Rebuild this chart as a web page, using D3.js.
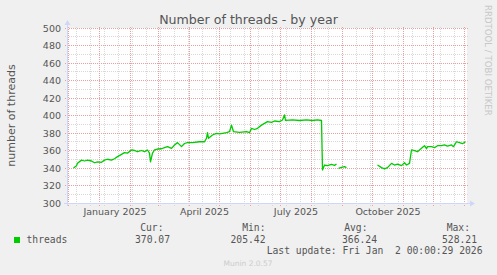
<!DOCTYPE html>
<html>
<head>
<meta charset="utf-8">
<script src="https://cdn.jsdelivr.net/npm/d3@7"></script>
<style>
  html, body { margin: 0; padding: 0; background: #f0f0f0; }
  svg { display: block; }
  text { font-family: 'DejaVu Sans', sans-serif; fill: #555; }
  text.mono { font-family: 'DejaVu Sans Mono', monospace; white-space: pre; }
</style>
</head>
<body>
<svg id="chart" width="497" height="275"></svg>
<script>
// 400 days, ending at the last update
const rangeStart = '2024-11-29T12:00:00Z';
const rangeEnd   = '2026-01-03T12:00:00Z';

const dates = [
  '2024-12-06','2024-12-09','2024-12-10','2024-12-14','2024-12-17','2024-12-20','2024-12-24','2024-12-27','2024-12-30',
  '2025-01-03','2025-01-06','2025-01-09','2025-01-13','2025-01-16','2025-01-19','2025-01-23','2025-01-26','2025-01-29',
  '2025-02-02','2025-02-05','2025-02-08','2025-02-12','2025-02-15','2025-02-18','2025-02-20','2025-02-21','2025-02-23','2025-02-25','2025-02-28',
  '2025-03-04','2025-03-07','2025-03-10','2025-03-14','2025-03-17','2025-03-20','2025-03-24','2025-03-27','2025-03-30',
  '2025-04-04','2025-04-11','2025-04-16','2025-04-18','2025-04-19','2025-04-20','2025-04-24','2025-04-28',
  '2025-05-01','2025-05-04','2025-05-08','2025-05-11','2025-05-13','2025-05-15','2025-05-21','2025-05-28','2025-05-31',
  '2025-06-02','2025-06-05','2025-06-08','2025-06-12','2025-06-15','2025-06-18','2025-06-22','2025-06-25','2025-06-30',
  '2025-07-03','2025-07-05','2025-07-06','2025-07-13','2025-07-20','2025-07-27',
  '2025-08-02','2025-08-07','2025-08-11','2025-08-12','2025-08-14','2025-08-17','2025-08-21','2025-08-24','2025-08-26','2025-08-27','2025-08-28','2025-08-31',
  '2025-09-03','2025-09-05','2025-09-20',
  '2025-10-06','2025-10-10','2025-10-13','2025-10-16','2025-10-20','2025-10-23','2025-10-26','2025-10-30',
  '2025-11-02','2025-11-04','2025-11-07','2025-11-09','2025-11-12','2025-11-15','2025-11-19','2025-11-22','2025-11-24','2025-11-25','2025-11-29',
  '2025-12-02','2025-12-05','2025-12-09','2025-12-12','2025-12-15','2025-12-19','2025-12-21','2025-12-24','2025-12-27','2025-12-30',
  '2026-01-02'
];
const threads = [
  340, 342.7, 345.3, 349, 348, 349, 348, 346, 347,
  346.5, 349, 350, 349, 350.6, 353, 355.6, 357.5, 357,
  360.6, 360, 358.6, 360, 358.6, 360.6, 357, 347, 357, 360.6, 361.7,
  362, 363.2, 364.4, 362.5, 366.3, 369, 364.4, 368, 369,
  369, 370, 370, 374, 380.4, 374, 377.7, 379.6,
  379, 379.6, 380.4, 381.5, 389, 381.5, 380.8, 381.5, 380.4,
  385.3, 384, 385.3, 389, 391, 393, 392.2, 393.7, 393,
  394.9, 400.6, 394.5, 395, 394.3, 395,
  394.3, 395, 394.3, 337.7, 343.4, 342.7, 344.2, 343, 344.5, null, 339.6, 340.8,
  341.5, 340.4, null,
  343.4, 340.4, 338.9, 340.4, 345.3, 343.4, 344.5, 342.7,
  346, 343.4, 345.3, 360.6, 359.8, 358.6, 362.5, 365.5, 362.1, 364.4, 364.4,
  363.2, 365.5, 365.5, 366.3, 365.1, 366.3, 364.4, 370, 369, 367.8,
  370
];

const yTicks       = [300, 320, 340, 360, 380, 400, 420, 440, 460, 480, 500];
const xLabelMonths = ['2025-01-01', '2025-04-01', '2025-07-01', '2025-10-01'];
const minorStart   = '2024-12-09';

const legendName   = 'threads';
const legendHeads  = ['Cur:', 'Min:', 'Avg:', 'Max:'];
const legendValues = ['370.07', '205.42', '366.24', '528.21'];
const lastUpdate   = 'Last update: Fri Jan  2 00:00:29 2026';

class MuninGraph {
    constructor (config) {
        this._config = config;
        this._svg = d3.select(config.selector);
    }
    /* **************************************************************** *
     *   Scale
     * **************************************************************** */
    setScale () {
        let c = this._config;
        this.x = d3.scaleUtc()
            .domain([new Date(rangeStart), new Date(rangeEnd)])
            .range([c.left, c.right]);
        this.y = d3.scaleLinear()
            .domain([300, 500])
            .range([c.bottom, c.top]);
        return this;
    }
    px (v) { return Math.floor(v) + 0.5; }
    /* **************************************************************** *
     *   Canvas / grid
     * **************************************************************** */
    drawCanvas () {
        let c = this._config;
        this._svg.append('rect')
            .attr('x', c.left).attr('y', c.top)
            .attr('width', c.right - c.left).attr('height', c.bottom - c.top)
            .attr('fill', '#ffffff');
        return this;
    }
    drawGrid () {
        let c = this._config, svg = this._svg;
        let g = svg.append('g').attr('class', 'grid').attr('shape-rendering', 'crispEdges');

        // minor horizontal lines every 10
        let minorY = d3.range(310, 500, 20);
        let majorY = yTicks;

        // minor vertical: every second monday
        let minorX = [];
        let t = new Date(minorStart + 'T00:00:00Z');
        while (t < new Date(rangeEnd)) {
            minorX.push(t);
            t = d3.utcDay.offset(t, 14);
        }
        let majorX = d3.utcMonth.range(new Date(rangeStart), new Date(rangeEnd));

        let hline = (vals, col) => {
            g.selectAll(null).data(vals).enter().append('line')
                .attr('x1', c.left - 2).attr('x2', c.right + 1)
                .attr('y1', (d) => this.px(this.y(d)))
                .attr('y2', (d) => this.px(this.y(d)))
                .attr('stroke', col).attr('stroke-dasharray', '1,1');
        };
        let vline = (vals, col) => {
            g.selectAll(null).data(vals).enter().append('line')
                .attr('x1', (d) => this.px(this.x(d)))
                .attr('x2', (d) => this.px(this.x(d)))
                .attr('y1', c.top - 1).attr('y2', c.bottom + 3)
                .attr('stroke', col).attr('stroke-dasharray', '1,1');
        };
        hline(minorY, c.minorColor);
        vline(minorX, c.minorColor);
        hline(majorY, c.majorColor);
        vline(majorX, c.majorColor);
        return this;
    }
    drawAxis () {
        let c = this._config, svg = this._svg;
        let g = svg.append('g').attr('class', 'axis');
        let ax = this.px(c.left), ay = this.px(c.bottom);

        g.append('line').attr('x1', c.left - 3).attr('x2', c.right + 3)
            .attr('y1', ay).attr('y2', ay).attr('stroke', c.axisColor)
            .attr('shape-rendering', 'crispEdges');
        g.append('line').attr('x1', ax).attr('x2', ax)
            .attr('y1', c.bottom + 3).attr('y2', c.top - 3).attr('stroke', c.axisColor)
            .attr('shape-rendering', 'crispEdges');
        g.append('polygon')
            .attr('points', [[c.right + 3, ay - 3], [c.right + 8, ay], [c.right + 3, ay + 3]].join(' '))
            .attr('fill', c.axisColor);
        g.append('polygon')
            .attr('points', [[ax - 3, c.top - 3], [ax, c.top - 8], [ax + 3, c.top - 3]].join(' '))
            .attr('fill', c.axisColor);

        // y labels
        g.selectAll('text.ylab').data(yTicks).enter().append('text')
            .attr('class', 'ylab')
            .attr('x', c.left - 6)
            .attr('y', (d) => this.y(d) + 3.5)
            .attr('text-anchor', 'end')
            .attr('font-size', c.tickFont)
            .text((d) => d);

        // x labels, centred in the month
        let fmt = d3.utcFormat('%B %Y');
        g.selectAll('text.xlab').data(xLabelMonths).enter().append('text')
            .attr('class', 'xlab')
            .attr('x', (d) => {
                let s = new Date(d + 'T00:00:00Z');
                return (this.x(s) + this.x(d3.utcMonth.offset(s, 1))) / 2;
            })
            .attr('y', c.bottom + 12)
            .attr('text-anchor', 'middle')
            .attr('font-size', c.tickFont)
            .text((d) => fmt(new Date(d + 'T00:00:00Z')));
        return this;
    }
    /* **************************************************************** *
     *   Data
     * **************************************************************** */
    drawLine () {
        let c = this._config;
        let data = dates.map((d, i) => ({ t: new Date(d + 'T00:00:00Z'), v: threads[i] }));
        let line = d3.line()
            .defined((d) => d.v !== null)
            .x((d) => this.x(d.t))
            .y((d) => this.y(d.v));
        this._svg.append('path')
            .datum(data)
            .attr('d', line)
            .attr('fill', 'none')
            .attr('stroke', c.lineColor)
            .attr('stroke-width', 1.3)
            .attr('stroke-linejoin', 'round');
        return this;
    }
    /* **************************************************************** *
     *   Texts
     * **************************************************************** */
    drawTexts () {
        let c = this._config, svg = this._svg;

        svg.append('text')
            .attr('x', 248.5).attr('y', 24)
            .attr('text-anchor', 'middle')
            .attr('font-size', 12.6)
            .text('Number of threads - by year');

        svg.append('text')
            .attr('transform', 'translate(15,' + ((c.top + c.bottom) / 2) + ') rotate(-90)')
            .attr('text-anchor', 'middle')
            .attr('font-size', 11)
            .text('number of threads');

        svg.append('text')
            .attr('transform', 'translate(484.5,5) rotate(90)')
            .attr('font-size', 8.6)
            .style('fill', '#c8c8c8')
            .text('RRDTOOL / TOBI OETIKER');

        svg.append('text')
            .attr('x', 248).attr('y', 266)
            .attr('text-anchor', 'middle')
            .attr('font-size', 7.5)
            .style('fill', '#cccccc')
            .text('Munin 2.0.57');
        return this;
    }
    drawLegend () {
        let c = this._config, svg = this._svg;
        let g = svg.append('g').attr('class', 'legend');
        let headRight  = [163.5, 265.5, 367.5, 470];
        let valueRight = [170, 265.5, 377, 477];

        g.append('rect')
            .attr('x', 14).attr('y', 237).attr('width', 6).attr('height', 6)
            .attr('fill', c.lineColor);
        g.append('text').attr('class', 'mono')
            .attr('x', 26.5).attr('y', 242.5)
            .attr('font-size', c.legendFont)
            .text(legendName);

        g.selectAll('text.head').data(legendHeads).enter().append('text')
            .attr('class', 'mono head')
            .attr('x', (d, i) => headRight[i]).attr('y', 230.5)
            .attr('text-anchor', 'end')
            .attr('font-size', c.legendFont)
            .text((d) => d);
        g.selectAll('text.val').data(legendValues).enter().append('text')
            .attr('class', 'mono val')
            .attr('x', (d, i) => valueRight[i]).attr('y', 242.5)
            .attr('text-anchor', 'end')
            .attr('font-size', c.legendFont)
            .text((d) => d);
        g.append('text').attr('class', 'mono')
            .attr('x', 482.5).attr('y', 254)
            .attr('text-anchor', 'end')
            .attr('font-size', c.legendFont)
            .text(lastUpdate);
        return this;
    }
}

new MuninGraph({
    selector:   '#chart',
    left: 67, right: 467, top: 28, bottom: 203,
    tickFont:   9.5,
    legendFont: 9.7,
    lineColor:  '#00cc00',
    axisColor:  '#cfd6f8',
    majorColor: '#eba0a0',
    minorColor: '#d8d8d8'
})
    .setScale()
    .drawCanvas()
    .drawGrid()
    .drawAxis()
    .drawLine()
    .drawTexts()
    .drawLegend();
</script>
</body>
</html>
